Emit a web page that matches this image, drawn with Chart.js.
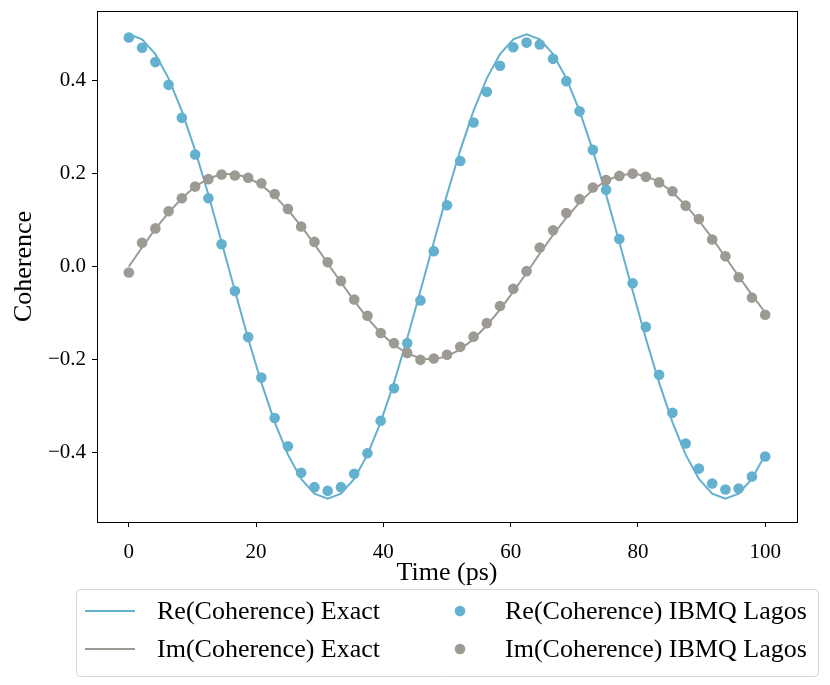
<!DOCTYPE html>
<html>
<head>
<meta charset="utf-8">
<script src="https://cdn.jsdelivr.net/npm/chart.js@4.4.1/dist/chart.umd.min.js"></script>
<style>
  html, body { margin: 0; padding: 0; background: #fff; }
  #chart { display: block; }
</style>
</head>
<body>
<canvas id="chart" width="830" height="685"></canvas>
<script>
// time axis (ps), 49 samples
var timePs = [0, 2.08, 4.17, 6.25, 8.33, 10.42, 12.5, 14.58, 16.67, 18.75,
  20.83, 22.92, 25, 27.08, 29.17, 31.25, 33.33, 35.42, 37.5, 39.58,
  41.67, 43.75, 45.83, 47.92, 50, 52.08, 54.17, 56.25, 58.33, 60.42,
  62.5, 64.58, 66.67, 68.75, 70.83, 72.92, 75, 77.08, 79.17, 81.25,
  83.33, 85.42, 87.5, 89.58, 91.67, 93.75, 95.83, 97.92, 100];

var reExact = [0.5, 0.489, 0.457, 0.405, 0.335, 0.25, 0.155, 0.052, -0.052, -0.155,
  -0.25, -0.335, -0.405, -0.457, -0.489, -0.5, -0.489, -0.457, -0.405, -0.335,
  -0.25, -0.155, -0.052, 0.052, 0.155, 0.25, 0.335, 0.405, 0.457, 0.489,
  0.5, 0.489, 0.457, 0.405, 0.335, 0.25, 0.155, 0.052, -0.052, -0.155,
  -0.25, -0.335, -0.405, -0.457, -0.489, -0.5, -0.489, -0.457, -0.405];

var imExact = [0, 0.041, 0.081, 0.116, 0.147, 0.172, 0.189, 0.199, 0.199, 0.191,
  0.175, 0.152, 0.122, 0.087, 0.048, 0.007, -0.034, -0.074, -0.111, -0.143,
  -0.169, -0.187, -0.198, -0.2, -0.193, -0.179, -0.156, -0.127, -0.093, -0.054,
  -0.014, 0.028, 0.068, 0.105, 0.138, 0.165, 0.185, 0.196, 0.2, 0.195,
  0.182, 0.16, 0.132, 0.099, 0.061, 0.02, -0.021, -0.061, -0.099];

var reIbmq = [0.493, 0.471, 0.44, 0.391, 0.32, 0.241, 0.147, 0.048, -0.053, -0.152,
  -0.239, -0.326, -0.387, -0.444, -0.475, -0.483, -0.475, -0.446, -0.402, -0.332,
  -0.262, -0.165, -0.073, 0.033, 0.132, 0.227, 0.31, 0.376, 0.432, 0.472,
  0.482, 0.478, 0.447, 0.399, 0.334, 0.251, 0.165, 0.059, -0.036, -0.13,
  -0.233, -0.315, -0.381, -0.435, -0.467, -0.48, -0.478, -0.452, -0.409];

var imIbmq = [-0.013, 0.051, 0.082, 0.119, 0.147, 0.172, 0.188, 0.198, 0.196, 0.191,
  0.179, 0.156, 0.124, 0.086, 0.053, 0.009, -0.031, -0.071, -0.106, -0.143,
  -0.165, -0.186, -0.201, -0.198, -0.19, -0.173, -0.151, -0.122, -0.085, -0.048,
  -0.01, 0.041, 0.078, 0.115, 0.145, 0.17, 0.186, 0.195, 0.2, 0.193,
  0.181, 0.162, 0.131, 0.102, 0.058, 0.022, -0.023, -0.067, -0.104];

var xTicks = [0, 20, 40, 60, 80, 100];
var yTicks = [-0.4, -0.2, 0, 0.2, 0.4];

var BLUE = '#63b0cf';
var GREY = '#9c9a93';
var SERIF = '"Liberation Serif", "DejaVu Serif", serif';

function toPoints(xs, ys){
    return xs.map(function(x, i){ return {x: x, y: ys[i]}; });
}

function lineSet(label, ys, color, order){
    return {
        label: label,
        data: toPoints(timePs, ys),
        borderColor: color,
        backgroundColor: color,
        borderWidth: 2,
        pointRadius: 0,
        tension: 0,
        fill: false,
        showLine: true,
        order: order
    };
}

function dotSet(label, ys, color, order){
    return {
        label: label,
        data: toPoints(timePs, ys),
        borderColor: color,
        backgroundColor: color,
        showLine: false,
        pointRadius: 5.3,
        pointBorderWidth: 0,
        pointBackgroundColor: color,
        order: order
    };
}

// full frame round the plot area
var frame = {
    id: 'frame',
    afterDatasetsDraw: function(chart){
        var a = chart.chartArea, ctx = chart.ctx;
        ctx.save();
        ctx.strokeStyle = '#000';
        ctx.lineWidth = 1;
        ctx.strokeRect(Math.round(a.left) + 0.5, Math.round(a.top) + 0.5,
            Math.round(a.right - a.left), Math.round(a.bottom - a.top));
        ctx.restore();
    }
};

// two column legend in a rounded box under the axis title
var boxLegend = {
    id: 'boxLegend',
    afterDraw: function(chart){
        var ctx = chart.ctx, a = chart.chartArea;
        var ds = chart.data.datasets;
        var w = 742, h = 87;
        var left = (a.left + a.right) / 2 - w / 2;
        var top = 589;
        ctx.save();
        ctx.beginPath();
        ctx.roundRect(left + 0.5, top + 0.5, w, h, 4);
        ctx.fillStyle = 'rgba(255,255,255,0.8)';
        ctx.fill();
        ctx.strokeStyle = '#d6d6d6';
        ctx.lineWidth = 1;
        ctx.stroke();

        ctx.font = '26px ' + SERIF;
        ctx.textBaseline = 'middle';
        ctx.textAlign = 'left';
        var rows = [top + 22, top + 60];
        // column 1: lines, column 2: markers
        [0, 1].forEach(function(r){
            var d = ds[r];
            ctx.strokeStyle = d.borderColor;
            ctx.lineWidth = 2;
            ctx.beginPath();
            ctx.moveTo(left + 9, rows[r]);
            ctx.lineTo(left + 59, rows[r]);
            ctx.stroke();
            ctx.fillStyle = '#000';
            ctx.fillText(d.label, left + 81, rows[r] + 1);
        });
        [2, 3].forEach(function(k, r){
            var d = ds[k];
            ctx.fillStyle = d.backgroundColor;
            ctx.beginPath();
            ctx.arc(left + 384, rows[r], 5.3, 0, Math.PI * 2);
            ctx.fill();
            ctx.fillStyle = '#000';
            ctx.fillText(d.label, left + 429, rows[r] + 1);
        });
        ctx.restore();
    }
};

var ctx = document.getElementById('chart').getContext('2d');

var chart = new Chart(ctx, {
    type: 'scatter',
    data: {
        datasets: [
            lineSet('Re(Coherence) Exact', reExact, BLUE, 4),
            lineSet('Im(Coherence) Exact', imExact, GREY, 3),
            dotSet('Re(Coherence) IBMQ Lagos', reIbmq, BLUE, 2),
            dotSet('Im(Coherence) IBMQ Lagos', imIbmq, GREY, 1)
        ]
    },
    options: {
        responsive: false,
        animation: false,
        devicePixelRatio: 1,
        layout: {
            padding: {left: 0, right: 33, top: 11, bottom: 95}
        },
        plugins: {
            legend: {display: false},
            tooltip: {enabled: false}
        },
        scales: {
            x: {
                type: 'linear',
                min: -5,
                max: 105,
                afterFit: function(scale){
                    scale.height = 68;
                    scale.paddingLeft = 0;
                    scale.paddingRight = 0;
                },
                afterBuildTicks: function(scale){
                    scale.ticks = xTicks.map(function(v){ return {value: v}; });
                },
                grid: {drawOnChartArea: false, tickLength: 5, tickColor: '#000'},
                border: {display: true, color: '#000', width: 1},
                ticks: {
                    color: '#000',
                    padding: 13,
                    maxRotation: 0,
                    font: {family: SERIF, size: 21},
                    callback: function(v){ return String(v); }
                },
                title: {
                    display: true,
                    text: 'Time (ps)',
                    color: '#000',
                    font: {family: SERIF, size: 26},
                    padding: {top: 0, bottom: 1}
                }
            },
            y: {
                type: 'linear',
                min: -0.55,
                max: 0.55,
                afterFit: function(scale){
                    scale.width = 97;
                    scale.paddingTop = 0;
                    scale.paddingBottom = 0;
                },
                afterBuildTicks: function(scale){
                    scale.ticks = yTicks.map(function(v){ return {value: v}; });
                },
                grid: {drawOnChartArea: false, tickLength: 5, tickColor: '#000'},
                border: {display: true, color: '#000', width: 1},
                ticks: {
                    color: '#000',
                    padding: 6,
                    font: {family: SERIF, size: 21},
                    callback: function(v){ return v.toFixed(1).replace('-', '\u2212'); }
                },
                title: {
                    display: true,
                    text: 'Coherence',
                    color: '#000',
                    font: {family: SERIF, size: 26},
                    padding: {top: 9, bottom: 0}
                }
            }
        }
    },
    plugins: [frame, boxLegend]
});
</script>
</body>
</html>
